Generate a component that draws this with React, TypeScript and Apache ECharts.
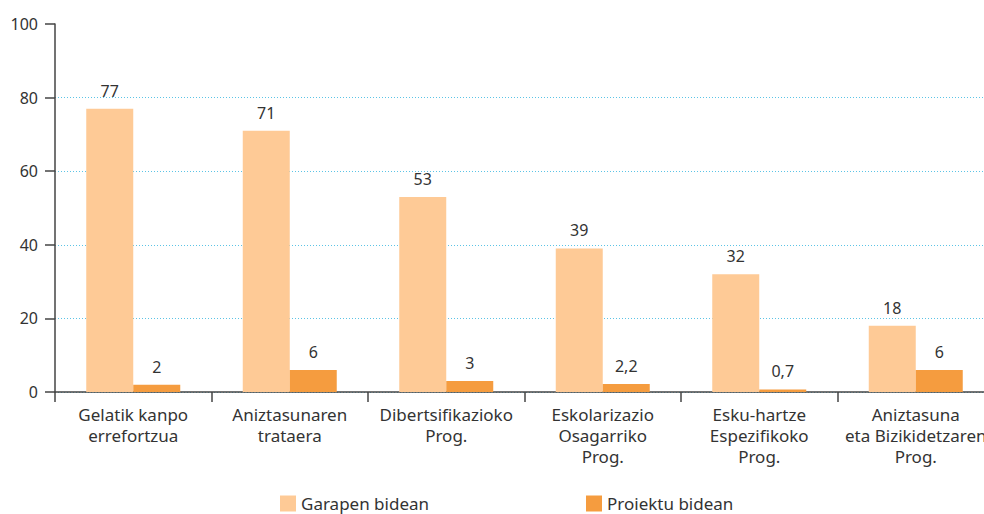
import React, { useEffect, useRef } from "react";
import * as echarts from "echarts";

const categories = [
  "Gelatik kanpo\nerrefortzua",
  "Aniztasunaren\ntrataera",
  "Dibertsifikazioko\nProg.",
  "Eskolarizazio\nOsagarriko\nProg.",
  "Esku-hartze\nEspezifikoko\nProg.",
  "Aniztasuna\neta Bizikidetzaren\nProg.",
];
const seriesNames = ["Garapen bidean", "Proiektu bidean"];
const garapen = [77, 71, 53, 39, 32, 18];
const proiektu = [2, 6, 3, 2.2, 0.7, 6];
const yTicks = [0, 20, 40, 60, 80, 100];

const FONT = "'Noto Sans', sans-serif";
const TXT = "#333333";

export default function App() {
  const ref = useRef<HTMLDivElement>(null);
  useEffect(() => {
    const chart = echarts.init(ref.current!, null, { renderer: "svg" });
    const fmt = (p: any) => String(p.value).replace(".", ",");
    chart.setOption({
      animation: false,
      textStyle: { fontFamily: FONT },
      grid: { left: 55, top: 24, height: 368, width: 939, containLabel: false, outerBoundsMode: "none" },
      legend: {
        data: seriesNames,
        left: 275,
        top: 490,
        itemWidth: 16,
        itemHeight: 16,
        itemGap: 157,
        icon: "rect",
        textStyle: { fontSize: 17, color: TXT, fontFamily: FONT },
      },
      xAxis: {
        type: "category",
        data: categories,
        axisLine: { lineStyle: { color: "#444", width: 1.5 } },
        axisTick: { show: true, length: 10, lineStyle: { color: "#444", width: 1.5 } },
        axisLabel: {
          interval: 0,
          fontSize: 17,
          lineHeight: 21,
          color: TXT,
          margin: 12,
          fontFamily: FONT,
        },
      },
      yAxis: {
        type: "value",
        min: yTicks[0],
        max: yTicks[yTicks.length - 1],
        interval: 20,
        axisLine: { show: true, lineStyle: { color: "#444", width: 1.5 } },
        axisTick: { show: true, inside: false, length: 10, lineStyle: { color: "#444", width: 1.5 } },
        axisLabel: { fontSize: 16, color: TXT, margin: 17, fontFamily: FONT },
        splitLine: {
          show: true,
          lineStyle: { color: "#5bc4e6", type: [1, 2], width: 1 },
          showMaxLine: false,
        },
      },
      series: [
        {
          name: seriesNames[0],
          type: "bar",
          data: garapen,
          barWidth: 47,
          barGap: "0%",
          itemStyle: { color: "#FECA96" },
          label: { show: true, position: "top", fontSize: 16, color: TXT, distance: 10, formatter: fmt, fontFamily: FONT },
        },
        {
          name: seriesNames[1],
          type: "bar",
          data: proiektu,
          barWidth: 47,
          barGap: "0%",
          itemStyle: { color: "#F59C3F" },
          label: { show: true, position: "top", fontSize: 16, color: TXT, distance: 10, formatter: fmt, fontFamily: FONT },
        },
      ],
    });
    return () => chart.dispose();
  }, []);
  return <div ref={ref} style={{ width: 984, height: 514, position: "absolute", left: 0, top: 0 }} />;
}
